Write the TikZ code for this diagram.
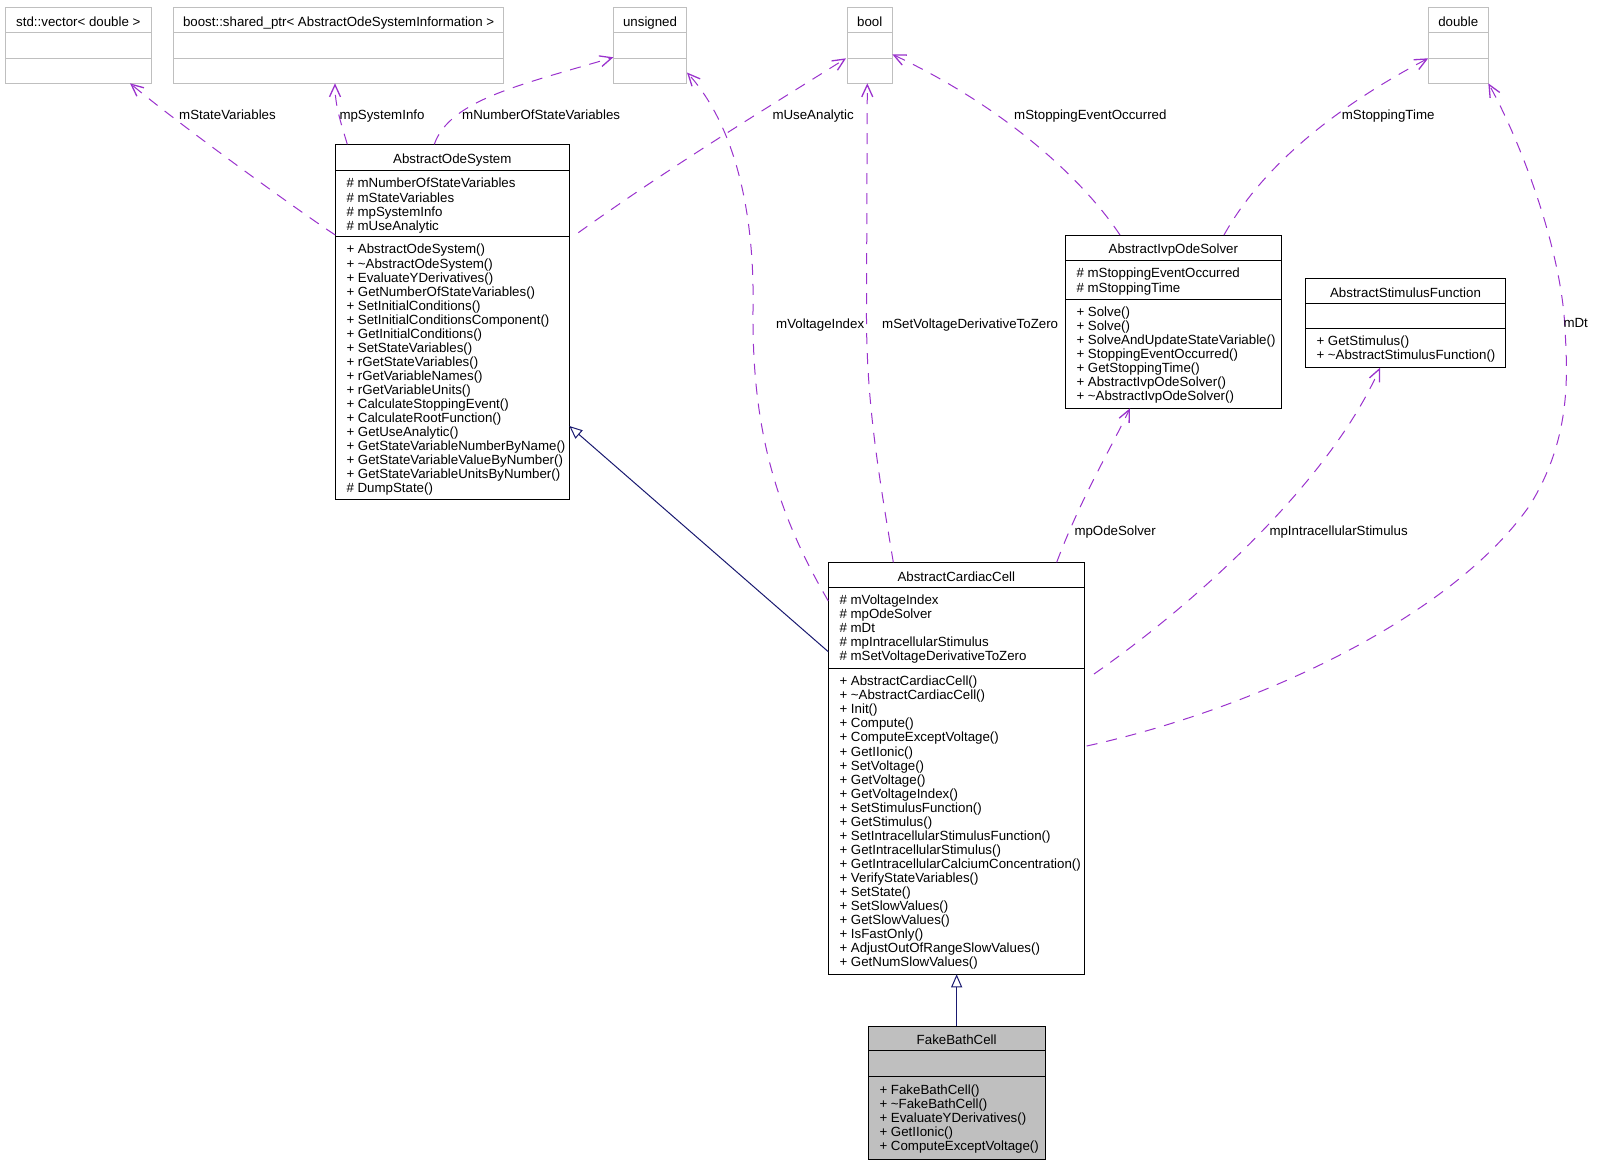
\documentclass[tikz,border=0pt]{standalone}
\usepackage{fontspec}
\setmainfont{Liberation Sans}
\usetikzlibrary{arrows.meta}
\definecolor{edgepurple}{HTML}{9A32CD}
\definecolor{navyblue}{HTML}{191970}
\definecolor{boxgray}{HTML}{BFBFBF}
\begin{document}
\begin{tikzpicture}[x=1pt,y=-1pt,
  every node/.style={font=\fontsize{13.3}{14.06}\selectfont},
  cls/.style={draw=black, line width=1pt, inner sep=0pt, outer sep=0pt, anchor=north west},
  ext/.style={cls, draw=boxgray},
  hdr/.style={anchor=base, inner sep=0pt},
  mem/.style={anchor=north west, inner sep=0pt, align=left},
  sepline/.style={line width=1pt},
  extsep/.style={line width=1pt, draw=boxgray},
  dep/.style={draw=edgepurple, line width=1pt, dash pattern=on 11pt off 9pt,
    -{Straight Barb[length=12pt,width=11pt,line width=1.3pt]}},
  lbl/.style={anchor=base west, inner sep=0pt},
  inh/.style={draw=navyblue, line width=1pt, -{Triangle[open,length=13pt,width=11pt]}},
]
\useasboundingbox (0,0) rectangle (1607,1163);

% ---------- external type boxes ----------
\node[ext, minimum width=145.9pt, minimum height=76pt] (vec) at (5.4,7.3) {};
\node[ext, minimum width=329.9pt, minimum height=76pt] (boost) at (173.7,7.3) {};
\node[ext, minimum width=73.3pt, minimum height=76pt] (uns) at (613.4,7.3) {};
\node[ext, minimum width=44.5pt, minimum height=76pt] (bool) at (847.5,7.3) {};
\node[ext, minimum width=60.1pt, minimum height=76pt] (dbl) at (1428.2,7.3) {};
\foreach \b in {vec,boost,uns,bool,dbl}{
  \draw[extsep] ([shift={(0,25.4)}]\b.north west) -- ([shift={(0,25.4)}]\b.north east);
  \draw[extsep] ([shift={(0,51)}]\b.north west) -- ([shift={(0,51)}]\b.north east);
}
\node[hdr] (vecT) at ([shift={(0,18.7)}]vec.north) {std::vector< double >};
\node[hdr] (boostT) at ([shift={(0,18.7)}]boost.north) {boost::shared\_ptr< AbstractOdeSystemInformation >};
\node[hdr] (unsT) at ([shift={(0,18.7)}]uns.north) {unsigned};
\node[hdr] (boolT) at ([shift={(0,18.7)}]bool.north) {bool};
\node[hdr] (dblT) at ([shift={(0,18.7)}]dbl.north) {double};

% ---------- AbstractOdeSystem ----------
\node[cls, minimum width=234pt, minimum height=355pt] (ode) at (335.3,144.3) {};
\draw[sepline] ([shift={(0,26.4)}]ode.north west) -- ([shift={(0,26.4)}]ode.north east);
\draw[sepline] ([shift={(0,92.4)}]ode.north west) -- ([shift={(0,92.4)}]ode.north east);
\node[hdr] (odeT) at ([shift={(0,19)}]ode.north) {AbstractOdeSystem};
\node[mem] (odeA) at ([shift={(11,33.6)}]ode.north west) {\strut\# mNumberOfStateVariables\\\# mStateVariables\\\# mpSystemInfo\\\# mUseAnalytic};
\node[mem] (odeM) at ([shift={(11,99.6)}]ode.north west) {\strut+ AbstractOdeSystem()\\+ \textasciitilde{}AbstractOdeSystem()\\+ EvaluateYDerivatives()\\+ GetNumberOfStateVariables()\\+ SetInitialConditions()\\+ SetInitialConditionsComponent()\\+ GetInitialConditions()\\+ SetStateVariables()\\+ rGetStateVariables()\\+ rGetVariableNames()\\+ rGetVariableUnits()\\+ CalculateStoppingEvent()\\+ CalculateRootFunction()\\+ GetUseAnalytic()\\+ GetStateVariableNumberByName()\\+ GetStateVariableValueByNumber()\\+ GetStateVariableUnitsByNumber()\\\# DumpState()};

% ---------- AbstractIvpOdeSolver ----------
\node[cls, minimum width=216pt, minimum height=173.3pt] (ivp) at (1065.3,235) {};
\draw[sepline] ([shift={(0,25.7)}]ivp.north west) -- ([shift={(0,25.7)}]ivp.north east);
\draw[sepline] ([shift={(0,64.3)}]ivp.north west) -- ([shift={(0,64.3)}]ivp.north east);
\node[hdr] (ivpT) at ([shift={(0,18.7)}]ivp.north) {AbstractIvpOdeSolver};
\node[mem] (ivpA) at ([shift={(11,32.9)}]ivp.north west) {\strut\# mStoppingEventOccurred\\\# mStoppingTime};
\node[mem] (ivpM) at ([shift={(11,71.5)}]ivp.north west) {\strut+ Solve()\\+ Solve()\\+ SolveAndUpdateStateVariable()\\+ StoppingEventOccurred()\\+ GetStoppingTime()\\+ AbstractIvpOdeSolver()\\+ \textasciitilde{}AbstractIvpOdeSolver()};

% ---------- AbstractStimulusFunction ----------
\node[cls, minimum width=200.4pt, minimum height=89.4pt] (stim) at (1305.3,278.3) {};
\draw[sepline] ([shift={(0,25)}]stim.north west) -- ([shift={(0,25)}]stim.north east);
\draw[sepline] ([shift={(0,50)}]stim.north west) -- ([shift={(0,50)}]stim.north east);
\node[hdr] (stimT) at ([shift={(0,18.7)}]stim.north) {AbstractStimulusFunction};
\node[mem] (stimM) at ([shift={(11,57.4)}]stim.north west) {\strut+ GetStimulus()\\+ \textasciitilde{}AbstractStimulusFunction()};

% ---------- AbstractCardiacCell ----------
\node[cls, minimum width=256pt, minimum height=412pt] (cell) at (828.3,562.3) {};
\draw[sepline] ([shift={(0,25)}]cell.north west) -- ([shift={(0,25)}]cell.north east);
\draw[sepline] ([shift={(0,106)}]cell.north west) -- ([shift={(0,106)}]cell.north east);
\node[hdr] (cellT) at ([shift={(0,18.7)}]cell.north) {AbstractCardiacCell};
\node[mem] (cellA) at ([shift={(11,32.4)}]cell.north west) {\strut\# mVoltageIndex\\\# mpOdeSolver\\\# mDt\\\# mpIntracellularStimulus\\\# mSetVoltageDerivativeToZero};
\node[mem] (cellM) at ([shift={(11,113.4)}]cell.north west) {\strut+ AbstractCardiacCell()\\+ \textasciitilde{}AbstractCardiacCell()\\+ Init()\\+ Compute()\\+ ComputeExceptVoltage()\\+ GetIIonic()\\+ SetVoltage()\\+ GetVoltage()\\+ GetVoltageIndex()\\+ SetStimulusFunction()\\+ GetStimulus()\\+ SetIntracellularStimulusFunction()\\+ GetIntracellularStimulus()\\+ GetIntracellularCalciumConcentration()\\+ VerifyStateVariables()\\+ SetState()\\+ SetSlowValues()\\+ GetSlowValues()\\+ IsFastOnly()\\+ AdjustOutOfRangeSlowValues()\\+ GetNumSlowValues()};

% ---------- FakeBathCell ----------
\node[cls, fill=boxgray, minimum width=176.7pt, minimum height=133pt] (fake) at (868.3,1026) {};
\draw[sepline] ([shift={(0,24.7)}]fake.north west) -- ([shift={(0,24.7)}]fake.north east);
\draw[sepline] ([shift={(0,50.7)}]fake.north west) -- ([shift={(0,50.7)}]fake.north east);
\node[hdr] (fakeT) at ([shift={(0,18.7)}]fake.north) {FakeBathCell};
\node[mem] (fakeM) at ([shift={(11,58)}]fake.north west) {\strut+ FakeBathCell()\\+ \textasciitilde{}FakeBathCell()\\+ EvaluateYDerivatives()\\+ GetIIonic()\\+ ComputeExceptVoltage()};

% ---------- inheritance ----------
\draw[inh] ([shift={(0,89.4)}]cell.north west) -- ([shift={(0,281.7)}]ode.north east);
\draw[inh] (fake.north) -- (fake.north |- cell.south);

% ---------- usage (member) edges ----------
\draw[dep] ([shift={(0,90.7)}]ode.north west) .. controls (300,212) and (180,125) .. ([shift={(124.6,0)}]vec.south west);
\draw[dep] ([shift={(12,0)}]ode.north west) .. controls (340,120) and (335,105) .. ([shift={(161.3,0)}]boost.south west);
\draw[dep] ([shift={(99,0)}]ode.north west) .. controls (450,100) and (520,85) .. ([shift={(0,50)}]uns.north west);
\draw[dep] ([shift={(243,88.4)}]ode.north west) .. controls (680,160) and (780,100) .. ([shift={(-1.5,51)}]bool.north west);
\draw[dep] ([shift={(0,38.7)}]cell.north west) .. controls (772,505) and (752,420) .. (753,310) .. controls (755,200) and (730,120) .. ([shift={(0.3,65.2)}]uns.north east);
\draw[dep] ([shift={(65,0)}]cell.north west) .. controls (878,470) and (866,400) .. (866.5,310) -- ([shift={(19.8,0)}]bool.south west);
\draw[dep] ([shift={(54.7,0)}]ivp.north west) .. controls (1080,175) and (1000,105) .. ([shift={(0.3,47)}]bool.north east);
\draw[dep] ([shift={(158.7,0)}]ivp.north west) .. controls (1260,170) and (1330,110) .. ([shift={(0,51)}]dbl.north west);
\draw[dep] ([shift={(228.4,0)}]cell.north west) .. controls (1080,500) and (1110,450) .. ([shift={(64.7,0)}]ivp.south west);
\draw[dep] ([shift={(9.7,111.7)}]cell.north east) .. controls (1200,600) and (1330,480) .. ([shift={(74.7,0)}]stim.south west);
\draw[dep] ([shift={(2.4,183.7)}]cell.north east) .. controls (1250,710) and (1450,620) .. (1530,505) .. controls (1570,440) and (1568,380) .. (1565,330) .. controls (1562,250) and (1520,140) .. (dbl.south east);

% ---------- edge labels ----------
\node[lbl] (l1) at (179,119.3) {mStateVariables};
\node[lbl] (l2) at (339.3,119.3) {mpSystemInfo};
\node[lbl] (l3) at (462,119.3) {mNumberOfStateVariables};
\node[lbl] (l4) at (772.3,119.3) {mUseAnalytic};
\node[lbl] (l5) at (1014,119.3) {mStoppingEventOccurred};
\node[lbl] (l6) at (1341.7,119.3) {mStoppingTime};
\node[lbl] (l7) at (776,328) {mVoltageIndex};
\node[lbl] (l8) at (882,328) {mSetVoltageDerivativeToZero};
\node[lbl] (l9) at (1563.3,327.5) {mDt};
\node[lbl] (l10) at (1074.3,535.7) {mpOdeSolver};
\node[lbl] (l11) at (1269.3,535.7) {mpIntracellularStimulus};
\end{tikzpicture}
\end{document}
